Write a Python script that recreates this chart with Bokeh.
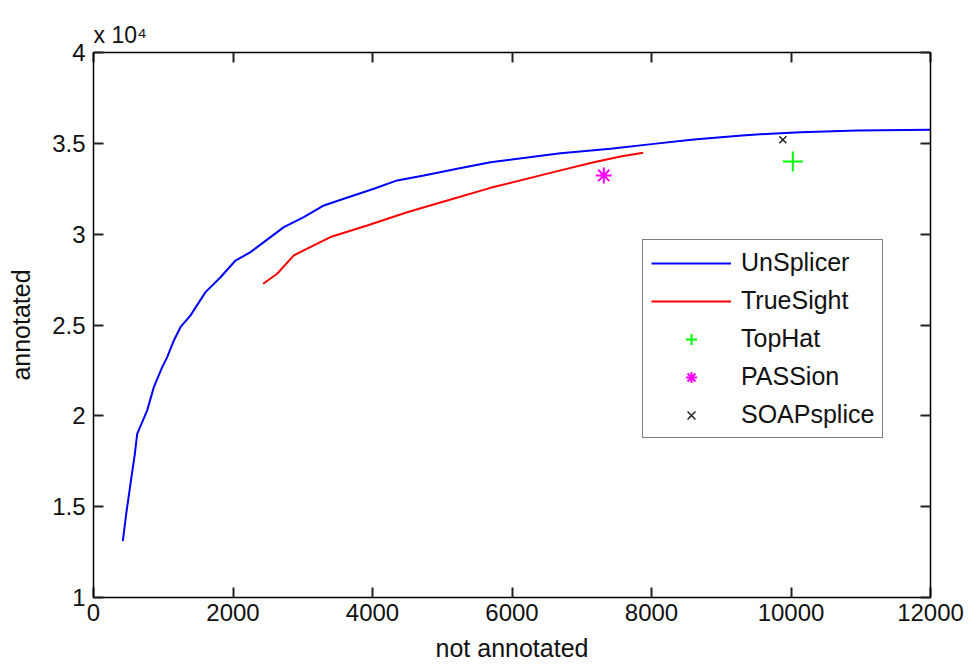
from bokeh.plotting import figure
from bokeh.models import (Range1d, FixedTicker, LinearAxis, CustomJSTickFormatter,
                          Legend, LegendItem, Title)
from bokeh.embed import file_html
from bokeh.resources import INLINE

# ---- data ----
unsplicer_x = [420, 469, 530, 593, 626, 698, 770, 865, 985, 1057, 1152, 1247, 1391,
               1606, 1821, 2036, 2251, 2442, 2729, 3015, 3302, 3589, 4019, 4354,
               4736, 5214, 5692, 6695, 7412, 8033, 8607, 9300, 9706, 10136, 10949, 12000]
unsplicer_y = [13100, 14610, 16260, 17910, 19010, 19650, 20300, 21580, 22680, 23230,
               24150, 24880, 25530, 26810, 27630, 28550, 29010, 29560, 30390, 30940,
               31580, 31950, 32500, 32960, 33230, 33600, 33960, 34460, 34700, 34970,
               35210, 35430, 35530, 35610, 35710, 35750]
truesight_x = [2432, 2633, 2872, 3063, 3398, 3924, 4497, 5071, 5692, 6695, 7173, 7556, 7880]
truesight_y = [27270, 27820, 28830, 29200, 29840, 30480, 31210, 31850, 32550, 33510,
               33960, 34280, 34480]
tophat_x = [10026]
tophat_y = [34000]
passion_x = [7316]
passion_y = [33230]
soapsplice_x = [9883]
soapsplice_y = [35200]

x_ticks = [0, 2000, 4000, 6000, 8000, 10000, 12000]
y_ticks = [10000, 15000, 20000, 25000, 30000, 35000, 40000]
exponent_text = "x 10\u2074"

FONT = "Liberation Sans"

p = figure(width=968, height=667, output_backend="svg", toolbar_location=None,
           x_range=Range1d(0, 12000), y_range=Range1d(10000, 40000),
           x_axis_label="not annotated", y_axis_label="annotated",
           min_border_left=93, min_border_right=38, min_border_top=52,
           min_border_bottom=70)
p.grid.visible = False
p.outline_line_color = "black"
p.outline_line_width = 1
p.background_fill_color = "white"
p.border_fill_color = "white"

fmt = CustomJSTickFormatter(code="return (tick/10000).toString();")
blank = CustomJSTickFormatter(code="return '';")

for ax in p.xaxis:
    ax.ticker = FixedTicker(ticks=x_ticks)
for ax in p.yaxis:
    ax.ticker = FixedTicker(ticks=y_ticks)
    ax.formatter = fmt

for ax in list(p.xaxis) + list(p.yaxis):
    ax.major_tick_in = 10
    ax.major_tick_out = 0
    ax.major_tick_line_width = 2
    ax.minor_tick_line_color = None
    ax.axis_line_color = "black"
    ax.axis_line_width = 1.5
    ax.major_tick_line_color = "#222222"
    ax.major_label_text_font = FONT
    ax.major_label_text_font_size = "24px"
    ax.major_label_text_color = "#111111"
    ax.axis_label_text_font = FONT
    ax.axis_label_text_font_size = "25px"
    ax.axis_label_text_font_style = "normal"
    ax.axis_label_text_color = "#111111"

p.xaxis.major_label_standoff = 6
p.xaxis.axis_label_standoff = 10
p.yaxis.major_label_standoff = 8
p.yaxis.axis_label_standoff = 14

# mirrored ticks on top and right
top_ax = LinearAxis(ticker=FixedTicker(ticks=x_ticks), formatter=blank,
                    major_tick_in=10, major_tick_out=0, major_tick_line_width=2,
                    major_tick_line_color="#222222", minor_tick_line_color=None,
                    major_label_standoff=0, axis_line_color="black",
                    axis_line_width=1.5)
right_ax = LinearAxis(ticker=FixedTicker(ticks=y_ticks), formatter=blank,
                      major_tick_in=10, major_tick_out=0, major_tick_line_width=2,
                      major_tick_line_color="#222222", minor_tick_line_color=None,
                      major_label_standoff=0, axis_line_color="black",
                      axis_line_width=1.5)
p.add_layout(top_ax, "above")
p.add_layout(right_ax, "right")

p.add_layout(Title(text=exponent_text, align="left", text_font=FONT,
                   text_font_size="23px", text_font_style="normal",
                   text_color="#111111", standoff=9), "above")

r_un = p.line(unsplicer_x, unsplicer_y, line_color="#0000ff", line_width=2)
r_ts = p.line(truesight_x, truesight_y, line_color="#ff0000", line_width=2)
r_th = p.scatter(tophat_x, tophat_y, marker="cross", size=20, line_color="#00ff00",
                 line_width=2)
r_pa = p.scatter(passion_x, passion_y, marker="asterisk", size=16, line_color="#ff00ff",
                 line_width=2)
r_so = p.scatter(soapsplice_x, soapsplice_y, marker="x", size=10, line_color="#222222",
                 line_width=1.5)

legend = Legend(items=[
    LegendItem(label="UnSplicer", renderers=[r_un]),
    LegendItem(label="TrueSight", renderers=[r_ts]),
    LegendItem(label="TopHat", renderers=[r_th]),
    LegendItem(label="PASSion", renderers=[r_pa]),
    LegendItem(label="SOAPsplice", renderers=[r_so]),
], location=(549, 159))
legend.label_text_font = FONT
legend.label_text_font_size = "25px"
legend.label_text_color = "#111111"
legend.label_height = 28
legend.glyph_height = 28
legend.glyph_width = 80
legend.label_standoff = 10
legend.spacing = 9
legend.padding = 8
legend.margin = 0
legend.border_line_color = "black"
legend.border_line_width = 1.5
legend.background_fill_color = "white"
legend.background_fill_alpha = 1
p.add_layout(legend, "center")

open("out.html", "w").write(file_html(p, INLINE))
